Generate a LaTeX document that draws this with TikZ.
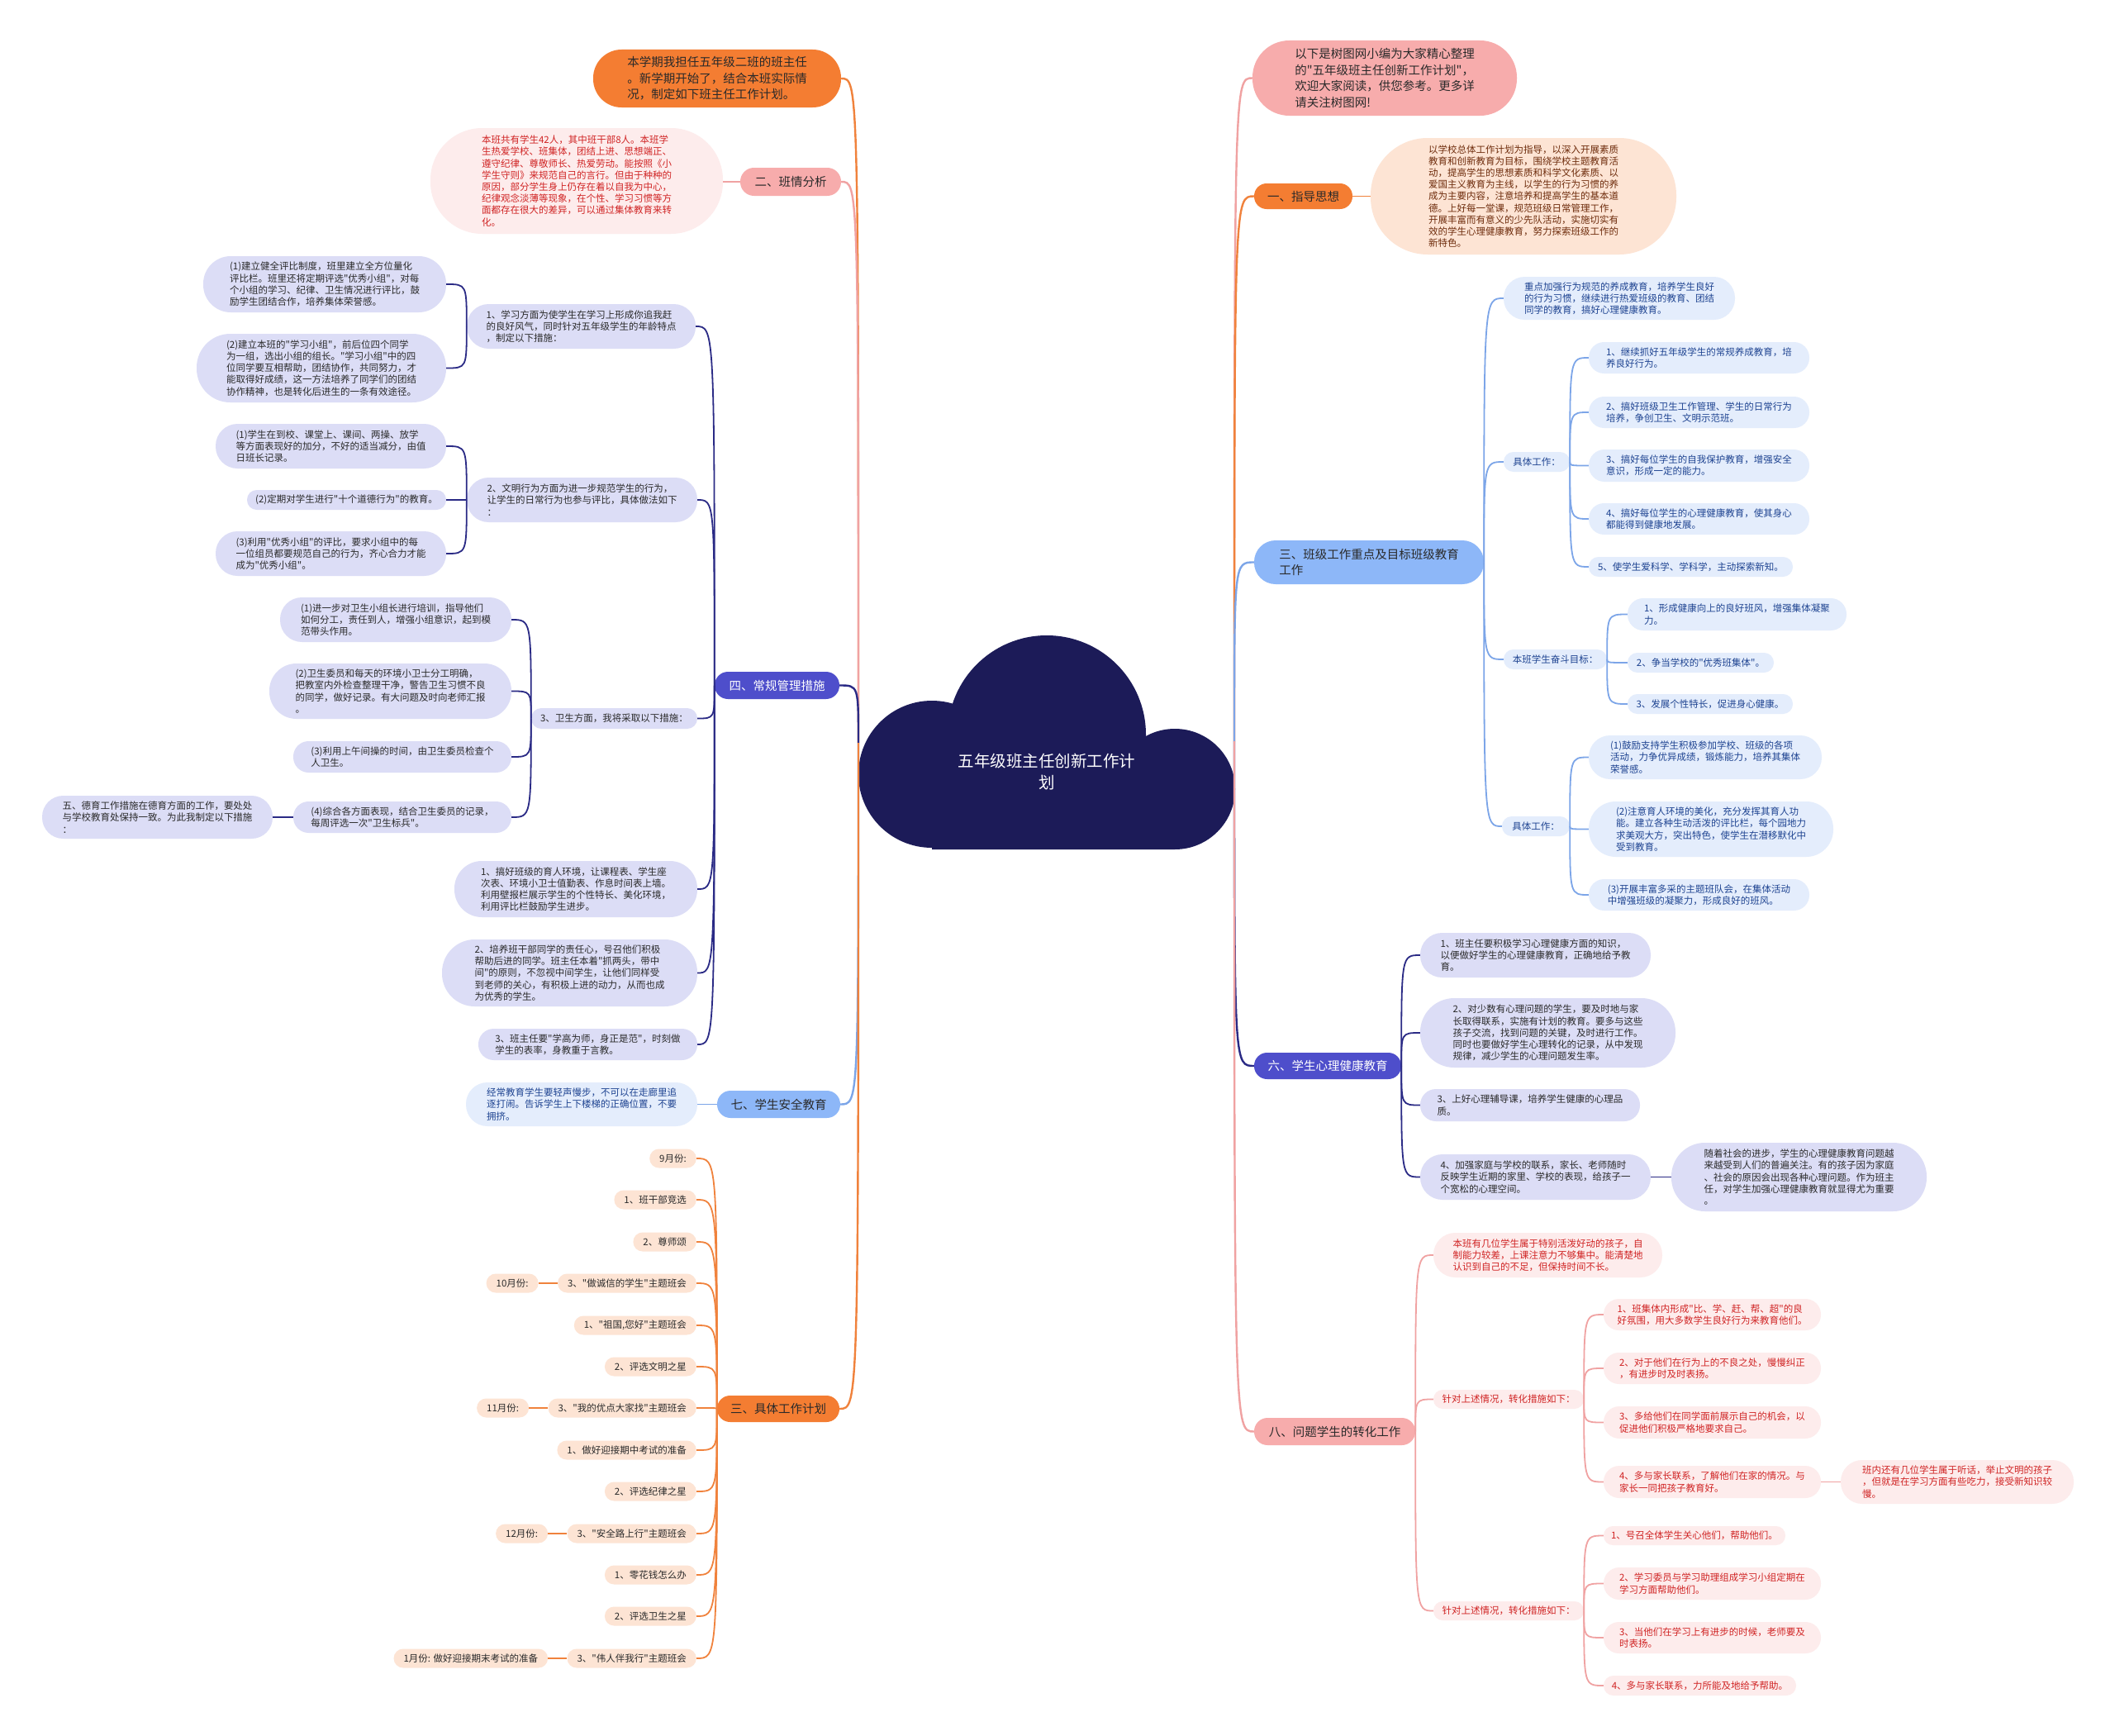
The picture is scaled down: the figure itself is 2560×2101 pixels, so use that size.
\documentclass[tikz,border=0pt]{standalone}
\usepackage{fontspec}
\setmainfont{Noto Sans CJK SC}[Ligatures=TeXOff]
\definecolor{cCloud}{HTML}{1C1B58}
\definecolor{cOr}{HTML}{F47D32}
\definecolor{cOrL}{HTML}{F0823C}
\definecolor{cPk}{HTML}{F7ACAC}
\definecolor{cPkL}{HTML}{FDECEC}
\definecolor{cPkLine}{HTML}{F0A2A2}
\definecolor{cRed}{HTML}{D02424}
\definecolor{cInd}{HTML}{4E4ECB}
\definecolor{cIndL}{HTML}{DCDDF6}
\definecolor{cIndLine}{HTML}{2A2A85}
\definecolor{cBl}{HTML}{8DB7F8}
\definecolor{cBlL}{HTML}{E4EDFC}
\definecolor{cBlLine}{HTML}{7CA5E8}
\definecolor{cBlT}{HTML}{1E4391}
\definecolor{cPeach}{HTML}{FDE4D4}
\definecolor{cBrown}{HTML}{6E2C0C}
\definecolor{cDark}{HTML}{2A2A2A}
\newcommand\bx[7]{%
  \pgfmathsetmacro\mybw{#4-#2}%
  \pgfmathsetmacro\mybh{#5-#3}%
  \pgfmathsetmacro\mybr{0.49*\mybh}%
  \pgfmathsetmacro\mycx{(#2+#4)/2}%
  \pgfmathsetmacro\mycy{(#3+#5)/2}%
  \node[#6, minimum width=\mybw pt, minimum height=\mybh pt, rounded corners=\mybr pt] (#1) at (\mycx,\mycy) {#7};}
\newcommand\cn[3]{\draw[#1] (#2) .. controls (#2 |- #3) .. (#3);}
\tikzset{
  every node/.style={inner sep=0pt, align=left},
  lg/.style={font=\fontsize{14.5}{19.5}\selectfont},
  sm/.style={font=\fontsize{11.5}{14.2}\selectfont},
  orangeM/.style={fill=cOr, text=cDark, lg},
  pinkM/.style={fill=cPk, text=cDark, lg},
  indM/.style={fill=cInd, text=white, lg},
  blueM/.style={fill=cBl, text=cDark, lg},
  pinkC/.style={fill=cPkL, text=cRed, sm},
  indC/.style={fill=cIndL, text=cDark, sm},
  blueC/.style={fill=cBlL, text=cBlT, sm},
  peachC/.style={fill=cPeach, text=cBrown, sm},
  monC/.style={fill=cPeach, text=cDark, sm, minimum height=23pt, rounded corners=11.4pt, inner xsep=12pt},
  lnO/.style={draw=cOrL, line width=2.4pt},
  lnOs/.style={draw=cOrL, line width=1.8pt},
  lnP/.style={draw=cPkLine, line width=2.4pt},
  lnPs/.style={draw=cPkLine, line width=1.8pt},
  lnI/.style={draw=cIndLine, line width=2.4pt},
  lnIs/.style={draw=cIndLine, line width=1.8pt},
  lnB/.style={draw=cBlLine, line width=2.4pt},
  lnBs/.style={draw=cBlLine, line width=1.8pt},
}
\begin{document}
\begin{tikzpicture}[x=1pt,y=-1pt]
\useasboundingbox (0,0) rectangle (2560,2101);
\fill[white] (0,0) rectangle (2560,2101);
% cloud
\fill[cCloud] (1128,937) circle[radius=89pt] (1267,889) circle[radius=120pt] (1422,955) circle[radius=73pt] (1128,940) rectangle (1422,1028);
\node[text=white, font=\fontsize{19.5}{26}\selectfont, align=center] (root) at (1267,934) {五年级班主任创新工作计\\划};
\coordinate (rootL) at (1039,899);
\coordinate (rootR) at (1494,897);
% ---------------- LEFT ----------------
\bx{intro}{718}{60}{1018}{130}{orangeM}{本学期我担任五年级二班的班主任\\。新学期开始了，结合本班实际情\\况，制定如下班主任工作计划。}
\bx{b2}{896}{203}{1018}{237}{pinkM}{二、班情分析}
\bx{b2c}{521}{155}{875}{283}{pinkC}{本班共有学生42人，其中班干部8人。本班学\\生热爱学校、班集体，团结上进、思想端正、\\遵守纪律、尊敬师长、热爱劳动。能按照《小\\学生守则》来规范自己的言行。但由于种种的\\原因，部分学生身上仍存在着以自我为中心，\\纪律观念淡薄等现象，在个性、学习习惯等方\\面都存在很大的差异，可以通过集体教育来转\\化。}
\bx{b4}{865}{813}{1016}{846}{indM}{四、常规管理措施}
\bx{c1}{565}{368}{842}{422}{indC}{1、学习方面为使学生在学习上形成你追我赶\\的良好风气，同时针对五年级学生的年龄特点\\，制定以下措施：}
\bx{c1a}{246}{310}{540}{378}{indC}{(1)建立健全评比制度，班里建立全方位量化\\评比栏。班里还将定期评选"优秀小组"，对每\\个小组的学习、纪律、卫生情况进行评比，鼓\\励学生团结合作，培养集体荣誉感。}
\bx{c1b}{238}{404}{540}{487}{indC}{(2)建立本班的"学习小组"，前后位四个同学\\为一组，选出小组的组长。"学习小组"中的四\\位同学要互相帮助，团结协作，共同努力，才\\能取得好成绩，这一方法培养了同学们的团结\\协作精神，也是转化后进生的一条有效途径。}
\bx{c2}{565}{578}{844}{632}{indC}{2、文明行为方面为进一步规范学生的行为，\\让学生的日常行为也参与评比，具体做法如下\\：}
\bx{c2a}{261}{513}{540}{567}{indC}{(1)学生在到校、课堂上、课间、两操、放学\\等方面表现好的加分，不好的适当减分，由值\\日班长记录。}
\bx{c2b}{299}{593}{540}{617}{indC}{(2)定期对学生进行"十个道德行为"的教育。}
\bx{c2c}{261}{643}{540}{697}{indC}{(3)利用"优秀小组"的评比，要求小组中的每\\一位组员都要规范自己的行为，齐心合力才能\\成为"优秀小组"。}
\bx{c3}{643}{857}{844}{882}{indC}{3、卫生方面，我将采取以下措施：}
\bx{c3a}{339}{723}{619}{777}{indC}{(1)进一步对卫生小组长进行培训，指导他们\\如何分工，责任到人，增强小组意识，起到模\\范带头作用。}
\bx{c3b}{326}{803}{619}{870}{indC}{(2)卫生委员和每天的环境小卫士分工明确，\\把教室内外检查整理干净，警告卫生习惯不良\\的同学，做好记录。有大问题及时向老师汇报\\。}
\bx{c3c}{355}{897}{619}{935}{indC}{(3)利用上午间操的时间，由卫生委员检查个\\人卫生。}
\bx{c3d}{355}{970}{619}{1008}{indC}{(4)综合各方面表现，结合卫生委员的记录，\\每周评选一次"卫生标兵"。}
\bx{c5}{51}{963}{330}{1015}{indC}{五、德育工作措施在德育方面的工作，要处处\\与学校教育处保持一致。为此我制定以下措施\\：}
\bx{c4}{550}{1042}{844}{1110}{indC}{1、搞好班级的育人环境，让课程表、学生座\\次表、环境小卫士值勤表、作息时间表上墙。\\利用壁报栏展示学生的个性特长、美化环境，\\利用评比栏鼓励学生进步。}
\bx{c6}{535}{1137}{844}{1218}{indC}{2、培养班干部同学的责任心，号召他们积极\\帮助后进的同学。班主任本着"抓两头，带中\\间"的原则，不忽视中间学生，让他们同样受\\到老师的关心，有积极上进的动力，从而也成\\为优秀的学生。}
\bx{c7}{579}{1245}{844}{1283}{indC}{3、班主任要"学高为师，身正是范"，时刻做\\学生的表率，身教重于言教。}
\bx{b7}{868}{1320}{1017}{1353}{blueM}{七、学生安全教育}
\bx{b7c}{564}{1310}{844}{1363}{blueC}{经常教育学生要轻声慢步，不可以在走廊里追\\逐打闹。告诉学生上下楼梯的正确位置，不要\\拥挤。}
\bx{b3}{868}{1689}{1016}{1721}{orangeM}{三、具体工作计划}
\node[monC, anchor=east] (m1) at (843,1402) {9月份:};
\node[monC, anchor=east] (m2) at (843,1452) {1、班干部竞选};
\node[monC, anchor=east] (m3) at (843,1503) {2、尊师颂};
\node[monC, anchor=east] (m4) at (843,1553) {3、"做诚信的学生"主题班会};
\node[monC, anchor=east] (m5) at (843,1604) {1、"祖国,您好"主题班会};
\node[monC, anchor=east] (m6) at (843,1654) {2、评选文明之星};
\node[monC, anchor=east] (m7) at (843,1704) {3、"我的优点大家找"主题班会};
\node[monC, anchor=east] (m8) at (843,1755) {1、做好迎接期中考试的准备};
\node[monC, anchor=east] (m9) at (843,1805) {2、评选纪律之星};
\node[monC, anchor=east] (m10) at (843,1856) {3、"安全路上行"主题班会};
\node[monC, anchor=east] (m11) at (843,1906) {1、零花钱怎么办};
\node[monC, anchor=east] (m12) at (843,1956) {2、评选卫生之星};
\node[monC, anchor=east] (m13) at (843,2007) {3、"伟人伴我行"主题班会};
\node[monC, anchor=east] (L10) at ([xshift=-23pt]m4.west) {10月份:};
\node[monC, anchor=east] (L11) at ([xshift=-23pt]m7.west) {11月份:};
\node[monC, anchor=east] (L12) at ([xshift=-23pt]m10.west) {12月份:};
\node[monC, anchor=east] (L1) at ([xshift=-23pt]m13.west) {1月份: 做好迎接期末考试的准备};
% ---------------- RIGHT ----------------
\bx{tr}{1516}{49}{1836}{140}{pinkM}{以下是树图网小编为大家精心整理\\的"五年级班主任创新工作计划"，\\欢迎大家阅读，供您参考。更多详\\请关注树图网!}
\bx{b1}{1518}{222}{1637}{253}{orangeM}{一、指导思想}
\bx{b1c}{1659}{167}{2029}{308}{peachC}{以学校总体工作计划为指导，以深入开展素质\\教育和创新教育为目标，围绕学校主题教育活\\动，提高学生的思想素质和科学文化素质、以\\爱国主义教育为主线，以学生的行为习惯的养\\成为主要内容，注意培养和提高学生的基本道\\德。上好每一堂课，规范班级日常管理工作，\\开展丰富而有意义的少先队活动，实施切实有\\效的学生心理健康教育，努力探索班级工作的\\新特色。}
\bx{b3r}{1518}{654}{1796}{707}{blueM}{三、班级工作重点及目标班级教育\\工作}
\bx{r1}{1820}{335}{2100}{387}{blueC}{重点加强行为规范的养成教育，培养学生良好\\的行为习惯，继续进行热爱班级的教育、团结\\同学的教育，搞好心理健康教育。}
\bx{r2}{1820}{547}{1900}{571}{blueC}{具体工作：}
\bx{r2a}{1923}{414}{2190}{452}{blueC}{1、继续抓好五年级学生的常规养成教育，培\\养良好行为。}
\bx{r2b}{1923}{480}{2190}{518}{blueC}{2、搞好班级卫生工作管理、学生的日常行为\\培养，争创卫生、文明示范班。}
\bx{r2c}{1923}{544}{2190}{583}{blueC}{3、搞好每位学生的自我保护教育，增强安全\\意识，形成一定的能力。}
\bx{r2d}{1923}{609}{2190}{647}{blueC}{4、搞好每位学生的心理健康教育，使其身心\\都能得到健康地发展。}
\bx{r2e}{1923}{674}{2170}{698}{blueC}{5、使学生爱科学、学科学，主动探索新知。}
\bx{r3}{1820}{786}{1945}{810}{blueC}{本班学生奋斗目标：}
\bx{r3a}{1970}{724}{2235}{763}{blueC}{1、形成健康向上的良好班风，增强集体凝聚\\力。}
\bx{r3b}{1970}{790}{2147}{814}{blueC}{2、争当学校的"优秀班集体"。}
\bx{r3c}{1970}{840}{2170}{864}{blueC}{3、发展个性特长，促进身心健康。}
\bx{r4}{1818}{988}{1900}{1012}{blueC}{具体工作：}
\bx{r4a}{1923}{890}{2205}{943}{blueC}{(1)鼓励支持学生积极参加学校、班级的各项\\活动，力争优异成绩，锻炼能力，培养其集体\\荣誉感。}
\bx{r4b}{1923}{970}{2219}{1037}{blueC}{(2)注意育人环境的美化，充分发挥其育人功\\能。建立各种生动活泼的评比栏，每个园地力\\求美观大方，突出特色，使学生在潜移默化中\\受到教育。}
\bx{r4c}{1923}{1064}{2190}{1102}{blueC}{(3)开展丰富多采的主题班队会，在集体活动\\中增强班级的凝聚力，形成良好的班风。}
\bx{b6}{1518}{1274}{1696}{1306}{indM}{六、学生心理健康教育}
\bx{s1}{1719}{1129}{1998}{1183}{indC}{1、班主任要积极学习心理健康方面的知识，\\以便做好学生的心理健康教育，正确地给予教\\育。}
\bx{s2}{1719}{1208}{2028}{1292}{indC}{2、对少数有心理问题的学生，要及时地与家\\长取得联系，实施有计划的教育。要多与这些\\孩子交流，找到问题的关键，及时进行工作。\\同时也要做好学生心理转化的记录，从中发现\\规律，减少学生的心理问题发生率。}
\bx{s3}{1719}{1318}{1985}{1357}{indC}{3、上好心理辅导课，培养学生健康的心理品\\质。}
\bx{s4}{1719}{1397}{1998}{1452}{indC}{4、加强家庭与学校的联系，家长、老师随时\\反映学生近期的家里、学校的表现，给孩子一\\个宽松的心理空间。}
\bx{s4c}{2023}{1383}{2332}{1466}{indC}{随着社会的进步，学生的心理健康教育问题越\\来越受到人们的普遍关注。有的孩子因为家庭\\、社会的原因会出现各种心理问题。作为班主\\任，对学生加强心理健康教育就显得尤为重要\\。}
\bx{b8}{1518}{1716}{1713}{1749}{pinkM}{八、问题学生的转化工作}
\bx{p1}{1735}{1492}{2012}{1546}{pinkC}{本班有几位学生属于特别活泼好动的孩子，自\\制能力较差，上课注意力不够集中。能清楚地\\认识到自己的不足，但保持时间不长。}
\bx{p2}{1735}{1682}{1917}{1705}{pinkC}{针对上述情况，转化措施如下：}
\bx{p2a}{1941}{1572}{2204}{1610}{pinkC}{1、班集体内形成"比、学、赶、帮、超"的良\\好氛围，用大多数学生良好行为来教育他们。}
\bx{p2b}{1941}{1637}{2204}{1675}{pinkC}{2、对于他们在行为上的不良之处，慢慢纠正\\，有进步时及时表扬。}
\bx{p2c}{1941}{1702}{2204}{1741}{pinkC}{3、多给他们在同学面前展示自己的机会，以\\促进他们积极严格地要求自己。}
\bx{p2d}{1941}{1774}{2204}{1813}{pinkC}{4、多与家长联系，了解他们在家的情况。与\\家长一同把孩子教育好。}
\bx{p2dc}{2228}{1767}{2510}{1820}{pinkC}{班内还有几位学生属于听话，举止文明的孩子\\，但就是在学习方面有些吃力，接受新知识较\\慢。}
\bx{p3}{1735}{1938}{1917}{1961}{pinkC}{针对上述情况，转化措施如下：}
\bx{p3a}{1941}{1847}{2161}{1870}{pinkC}{1、号召全体学生关心他们，帮助他们。}
\bx{p3b}{1941}{1897}{2204}{1936}{pinkC}{2、学习委员与学习助理组成学习小组定期在\\学习方面帮助他们。}
\bx{p3c}{1941}{1963}{2204}{2001}{pinkC}{3、当他们在学习上有进步的时候，老师要及\\时表扬。}
\bx{p3d}{1941}{2028}{2174}{2052}{pinkC}{4、多与家长联系，力所能及地给予帮助。}
% ---------------- CONNECTORS ----------------
\cn{lnO}{rootL}{intro.east}
\cn{lnP}{rootL}{b2.east}
\cn{lnI}{rootL}{b4.east}
\cn{lnB}{rootL}{b7.east}
\cn{lnO}{rootL}{b3.east}
\cn{lnP}{rootR}{tr.west}
\cn{lnO}{rootR}{b1.west}
\cn{lnB}{rootR}{b3r.west}
\cn{lnI}{rootR}{b6.west}
\cn{lnP}{rootR}{b8.west}
\draw[lnPs] (b2.west) -- (b2.west -| b2c.east);
\foreach \c in {c1,c2,c3,c4,c6,c7} {\cn{lnIs}{b4.west}{\c.east}}
\foreach \c in {c1a,c1b} {\cn{lnIs}{c1.west}{\c.east}}
\foreach \c in {c2a,c2b,c2c} {\cn{lnIs}{c2.west}{\c.east}}
\foreach \c in {c3a,c3b,c3c,c3d} {\cn{lnIs}{c3.west}{\c.east}}
\draw[lnIs] (c3d.west) -- (c3d.west -| c5.east);
\draw[lnBs] (b7.west) -- (b7.west -| b7c.east);
\foreach \c in {m1,m2,m3,m4,m5,m6,m7,m8,m9,m10,m11,m12,m13} {\cn{lnOs}{b3.west}{\c.east}}
\draw[lnOs] (L10.east) -- (m4.west);
\draw[lnOs] (L11.east) -- (m7.west);
\draw[lnOs] (L12.east) -- (m10.west);
\draw[lnOs] (L1.east) -- (m13.west);
\draw[lnOs] (b1.east) -- (b1.east -| b1c.west);
\foreach \c in {r1,r2,r3,r4} {\cn{lnBs}{b3r.east}{\c.west}}
\foreach \c in {r2a,r2b,r2c,r2d,r2e} {\cn{lnBs}{r2.east}{\c.west}}
\foreach \c in {r3a,r3b,r3c} {\cn{lnBs}{r3.east}{\c.west}}
\foreach \c in {r4a,r4b,r4c} {\cn{lnBs}{r4.east}{\c.west}}
\foreach \c in {s1,s2,s3,s4} {\cn{lnIs}{b6.east}{\c.west}}
\draw[lnIs] (s4.east) -- (s4.east -| s4c.west);
\foreach \c in {p1,p2,p3} {\cn{lnPs}{b8.east}{\c.west}}
\foreach \c in {p2a,p2b,p2c,p2d} {\cn{lnPs}{p2.east}{\c.west}}
\foreach \c in {p3a,p3b,p3c,p3d} {\cn{lnPs}{p3.east}{\c.west}}
\draw[lnPs] (p2d.east) -- (p2d.east -| p2dc.west);
\end{tikzpicture}
\end{document}
